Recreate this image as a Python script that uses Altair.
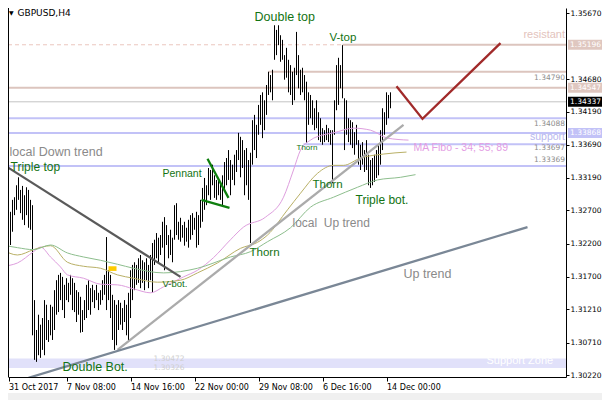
import altair as alt
import pandas as pd

FONT_UI = "DejaVu Sans"
FONT_TXT = "Liberation Sans"

# ---------------- data ----------------
# H4 bar highs / lows, bar 0 = 31 Oct 2017 00:00
high = [1.3218, 1.3214, 1.3226, 1.3233, 1.3268, 1.3286, 1.3290, 1.3308, 1.3320, 1.3301,
        1.3307, 1.3293, 1.3305, 1.3301, 1.3286, 1.3278, 1.3135, 1.3090, 1.3113, 1.3098,
        1.3108, 1.3135, 1.3128, 1.3105, 1.3128, 1.3125, 1.3150, 1.3165, 1.3173, 1.3176,
        1.3170, 1.3158, 1.3168, 1.3161, 1.3173, 1.3168, 1.3161, 1.3150, 1.3147, 1.3140,
        1.3120, 1.3135, 1.3158, 1.3165, 1.3153, 1.3158, 1.3150, 1.3158, 1.3146, 1.3150,
        1.3165, 1.3173, 1.3230, 1.3180, 1.3173, 1.3143, 1.3135, 1.3128, 1.3135, 1.3131,
        1.3123, 1.3135, 1.3128, 1.3146, 1.3180, 1.3188, 1.3192, 1.3188, 1.3198, 1.3203,
        1.3195, 1.3192, 1.3198, 1.3188, 1.3203, 1.3221, 1.3226, 1.3236, 1.3229, 1.3233,
        1.3253, 1.3260, 1.3248, 1.3233, 1.3241, 1.3229, 1.3278, 1.3281, 1.3253, 1.3259,
        1.3248, 1.3253, 1.3244, 1.3256, 1.3263, 1.3266, 1.3259, 1.3268, 1.3263, 1.3286,
        1.3304, 1.3319, 1.3308, 1.3334, 1.3331, 1.3339, 1.3323, 1.3316, 1.3319, 1.3311,
        1.3323, 1.3343, 1.3349, 1.3361, 1.3346, 1.3339, 1.3354, 1.3361, 1.3387, 1.3381,
        1.3376, 1.3361, 1.3364, 1.3346, 1.3357, 1.3406, 1.3414, 1.3399, 1.3429, 1.3444,
        1.3448, 1.3436, 1.3459, 1.3479, 1.3474, 1.3482, 1.3549, 1.3542, 1.3549, 1.3534,
        1.3527, 1.3504, 1.3515, 1.3497, 1.3489, 1.3479, 1.3485, 1.3539, 1.3504, 1.3482,
        1.3485, 1.3474, 1.3464, 1.3448, 1.3444, 1.3436, 1.3424, 1.3436, 1.3418, 1.3409,
        1.3394, 1.3391, 1.3399, 1.3394, 1.3391, 1.3391, 1.3436, 1.3489, 1.3500, 1.3489,
        1.3519, 1.3439, 1.3436, 1.3409, 1.3406, 1.3403, 1.3388, 1.3399, 1.3376, 1.3369,
        1.3373, 1.3361, 1.3376, 1.3354, 1.3346, 1.3349, 1.3354, 1.3361, 1.3369, 1.3391,
        1.3424, 1.3418, 1.3448, 1.3444, 1.3448]
low = [1.3192, 1.3188, 1.3198, 1.3192, 1.3218, 1.3238, 1.3263, 1.3271, 1.3286, 1.3266,
       1.3256, 1.3248, 1.3263, 1.3244, 1.3241, 1.3082, 1.3045, 1.3042, 1.3052, 1.3048,
       1.3060, 1.3052, 1.3075, 1.3072, 1.3082, 1.3075, 1.3090, 1.3113, 1.3117, 1.3135,
       1.3120, 1.3108, 1.3135, 1.3132, 1.3143, 1.3120, 1.3117, 1.3102, 1.3113, 1.3086,
       1.3087, 1.3105, 1.3108, 1.3120, 1.3113, 1.3132, 1.3123, 1.3135, 1.3120, 1.3128,
       1.3135, 1.3143, 1.3120, 1.3135, 1.3108, 1.3075, 1.3060, 1.3067, 1.3090, 1.3098,
       1.3090, 1.3102, 1.3082, 1.3072, 1.3108, 1.3135, 1.3150, 1.3158, 1.3161, 1.3153,
       1.3161, 1.3150, 1.3165, 1.3153, 1.3165, 1.3146, 1.3188, 1.3198, 1.3192, 1.3203,
       1.3214, 1.3180, 1.3218, 1.3198, 1.3203, 1.3192, 1.3226, 1.3233, 1.3226, 1.3223,
       1.3229, 1.3217, 1.3223, 1.3214, 1.3226, 1.3233, 1.3241, 1.3214, 1.3218, 1.3244,
       1.3253, 1.3271, 1.3278, 1.3293, 1.3286, 1.3308, 1.3289, 1.3286, 1.3293, 1.3286,
       1.3278, 1.3301, 1.3308, 1.3316, 1.3293, 1.3316, 1.3308, 1.3328, 1.3346, 1.3320,
       1.3334, 1.3293, 1.3308, 1.3286, 1.3221, 1.3339, 1.3361, 1.3349, 1.3384, 1.3399,
       1.3379, 1.3391, 1.3414, 1.3444, 1.3448, 1.3436, 1.3497, 1.3504, 1.3519, 1.3494,
       1.3497, 1.3467, 1.3470, 1.3448, 1.3444, 1.3429, 1.3436, 1.3474, 1.3454, 1.3444,
       1.3448, 1.3436, 1.3372, 1.3399, 1.3409, 1.3399, 1.3391, 1.3394, 1.3376, 1.3373,
       1.3369, 1.3373, 1.3376, 1.3373, 1.3369, 1.3311, 1.3384, 1.3421, 1.3429, 1.3454,
       1.3439, 1.3361, 1.3384, 1.3373, 1.3369, 1.3364, 1.3354, 1.3369, 1.3339, 1.3331,
       1.3339, 1.3328, 1.3331, 1.3308, 1.3304, 1.3308, 1.3313, 1.3319, 1.3323, 1.3339,
       1.3361, 1.3384, 1.3399, 1.3409, 1.3424]

# Moving averages (MA Fibo 34 / 55 / 89)
ma34_idx = [0, 7.5, 15.5, 19, 24, 29, 32.5, 40.5, 49, 57.5, 65.5, 74, 80.5, 90.5, 97.5,
            105.5, 114, 120.5, 131.5, 140.5, 145.5, 149, 154, 160.5, 165.5, 175.5, 184, 192.5, 203]
ma34_val = [1.3186, 1.3191, 1.3208, 1.3215, 1.3200, 1.3185, 1.3173, 1.3168, 1.3159, 1.3158,
            1.3152, 1.3146, 1.3155, 1.3170, 1.3180, 1.3199, 1.3226, 1.3245, 1.3260, 1.3290,
            1.3331, 1.3361, 1.3376, 1.3384, 1.3387, 1.3394, 1.3391, 1.3379, 1.3376]
ma55_idx = [0, 7.5, 15.5, 20, 24, 32.5, 40.5, 49, 57.5, 65.5, 77.5, 89, 97.5, 107.5, 119,
            127.5, 132.5, 142.5, 149, 157.5, 165.5, 170.5, 179, 190.5, 202]
ma55_val = [1.3211, 1.3203, 1.3211, 1.3215, 1.3217, 1.3192, 1.3186, 1.3183, 1.3173, 1.3168,
            1.3162, 1.3165, 1.3176, 1.3191, 1.3213, 1.3222, 1.3233, 1.3271, 1.3296, 1.3326,
            1.3338, 1.3338, 1.3349, 1.3355, 1.3358]
ma89_idx = [0, 7.5, 15.5, 24, 32.5, 40.5, 49, 57.5, 65.5, 80.5, 97.5, 114, 124, 132.5, 144,
            154, 165.5, 177.5, 187.5, 199, 206.5]
ma89_val = [1.3218, 1.3214, 1.3211, 1.3218, 1.3206, 1.3200, 1.3195, 1.3189, 1.3183, 1.3176,
            1.3183, 1.3200, 1.3208, 1.3223, 1.3244, 1.3275, 1.3290, 1.3305, 1.3316, 1.3320, 1.3324]

# x axis ticks (bar index) and labels
tick_pos = [0, 32, 64, 96, 128, 160, 192]
tick_text = ["31 Oct 2017", "7 Nov 08:00", "14 Nov 16:00", "22 Nov 00:00",
             "29 Nov 08:00", "6 Dec 16:00", "14 Dec 00:00"]
# y axis ticks
y_ticks = [1.35670, 1.34680, 1.34190, 1.33690, 1.33190, 1.32700,
           1.32200, 1.31700, 1.31210, 1.30710, 1.30220]

# horizontal levels: price, start bar, colour, width
lvl_price = [1.35196, 1.34790, 1.34547, 1.34337, 1.34088, 1.33868, 1.33697, 1.33369]
lvl_start = [170, 133, 0, 0, 0, 0, 150.5, 0]
lvl_color = ["#DCC5BE", "#DCC5BE", "#DCC5BE", "#C4C4C4", "#C2C2F7", "#C2C2F7", "#C2C2F7", "#C2C2F7"]
lvl_width = [2, 2, 2, 1, 2, 2, 2, 2]
resist_dashed = [1.35196, 0, 170]           # dashed part of the resistant level

# support zone
zone_low, zone_high = 1.30326, 1.30472

# trend lines: start bar, start price, end bar, end price, colour
tr_x0 = [0, 57.5, 13, 102.5, 99.5]
tr_p0 = [1.3340, 1.3060, 1.3018, 1.3348, 1.3286]
tr_x1 = [89, 200.5, 262.5, 113, 113.5]
tr_p1 = [1.3170, 1.3399, 1.3245, 1.3289, 1.3274]
tr_color = ["#5A5A5A", "#ABABAB", "#7A8796", "#0E7F0E", "#0E7F0E"]

# projected V path
v_idx = [197, 210, 249]
v_price = [1.3457, 1.3408, 1.3522]

# yellow marker
mark_x = [53, 57]
mark_p = [1.3179, 1.3186]

# price boxes on the right axis
box_price = [1.35196, 1.34547, 1.34337, 1.33868]
box_color = ["#DFC7C0", "#DFC7C0", "#000000", "#C2C2F7"]

# ---------------- scales / axes ----------------
X_MIN, X_MAX = 2.75, 281.75
Y_MIN, Y_MAX = 1.30192, 1.35750
W, H = 558, 369
RIGHT = 36
BOTTOM = 24

GREEN = "#137313"
GRAY = "#8A8A8A"
XR = X_MAX - 0.5
ann = [
    ("GBPUSD,H4", 7.5, 1.35680, "#000000", 9, "left", FONT_UI),
    ("\u25BC", 3.25, 1.35680, "#000000", 6, "left", FONT_UI),
    ("Double top", 126, 1.35614, GREEN, 12.5, "left", FONT_TXT),
    ("V-top", 163.5, 1.35305, GREEN, 11.5, "left", FONT_TXT),
    ("resistant", XR, 1.35343, "#E3C3BC", 11, "right", FONT_TXT),
    ("1.34790", XR, 1.34703, "#8C8C8C", 7.5, "right", FONT_UI),
    ("1.34088", XR, 1.34010, "#8C8C8C", 7.5, "right", FONT_UI),
    ("support", XR, 1.33807, "#B7B7EE", 10.5, "right", FONT_TXT),
    ("1.33697", XR, 1.33641, "#8C8C8C", 7.5, "right", FONT_UI),
    ("1.33369", XR, 1.33460, "#8C8C8C", 7.5, "right", FONT_UI),
    ("MA Fibo - 34; 55; 89", 205.5, 1.33634, "#E39DE3", 10.5, "left", FONT_TXT),
    ("local Down trend", 3.5, 1.33581, GRAY, 12.5, "left", FONT_TXT),
    ("Triple top", 4, 1.33355, GREEN, 12, "left", FONT_TXT),
    ("Pennant", 80, 1.33257, GREEN, 10.5, "left", FONT_TXT),
    ("Thorn", 147, 1.33634, GREEN, 8, "left", FONT_TXT),
    ("Thorn", 155, 1.33084, GREEN, 11.5, "left", FONT_TXT),
    ("Triple bot.", 176.5, 1.32858, GREEN, 12, "left", FONT_TXT),
    ("local\u00a0 Up trend", 145, 1.32512, GRAY, 12, "left", FONT_TXT),
    ("Thorn", 123.5, 1.32060, GREEN, 11.5, "left", FONT_TXT),
    ("Up trend", 200.5, 1.31744, GRAY, 12.5, "left", FONT_TXT),
    ("V-bot.", 80, 1.31593, GREEN, 9.5, "left", FONT_TXT),
    ("Double Bot.", 30, 1.30343, GREEN, 12.5, "left", FONT_TXT),
    ("1.30472", 75.5, 1.30463, "#CFCFCF", 7.5, "left", FONT_UI),
    ("1.30326", 75.5, 1.30328, "#CFCFCF", 7.5, "left", FONT_UI),
    ("Support Zone", 242, 1.30433, "#FFFFFF", 11, "left", FONT_TXT),
]

xs = alt.Scale(domain=[X_MIN, X_MAX], nice=False, zero=False)
ys = alt.Scale(domain=[Y_MIN, Y_MAX], nice=False, zero=False)

tick_axis_pos = [max(p, 3) for p in tick_pos]
label_expr = " : ".join(f"datum.value == {p} ? '{t}'" for p, t in zip(tick_axis_pos, tick_text)) + " : ''"

xaxis = alt.Axis(values=tick_axis_pos, labelExpr=label_expr, title=None, grid=False,
                 orient="bottom", tickSize=4, tickColor="black", domainColor="black",
                 labelColor="black", labelFont=FONT_UI, labelFontSize=8, labelAlign="left",
                 labelPadding=2, labelFlush=False, labelOverlap=False, zindex=1)
yaxis = alt.Axis(values=y_ticks, format=".5f", title=None, grid=False, orient="right",
                 tickSize=3, tickColor="black", domainColor="black", labelColor="black",
                 labelFont=FONT_UI, labelFontSize=7.5, labelPadding=1, labelBaseline="middle",
                 labelFlush=False, labelOverlap=False, zindex=0)


def X(f):
    return alt.X(f, type="quantitative", scale=xs, axis=xaxis)


def Y(f):
    return alt.Y(f, type="quantitative", scale=ys, axis=yaxis)


# ---------------- layers ----------------
strip = alt.Chart(pd.DataFrame({"k": [0]})).mark_rect(color="#F0F0F0").encode(
    x=alt.value(0), x2=alt.value(W + RIGHT), y=alt.value(H + 16), y2=alt.value(H + BOTTOM))

bars_df = pd.DataFrame({"idx": list(range(len(high))), "high": high, "low": low})
bars = alt.Chart(bars_df).mark_rule(color="black", strokeWidth=1, clip=True).encode(
    x=X("idx"), y=Y("high"), y2="low")

zone_df = pd.DataFrame({"x0": [X_MIN], "x1": [X_MAX], "lo": [zone_low], "hi": [zone_high]})
zone = alt.Chart(zone_df).mark_rect(color="#E1E1FA").encode(
    x=X("x0"), x2="x1", y=Y("lo"), y2="hi")

lvl_df = pd.DataFrame({"p": lvl_price, "x0": [max(s, X_MIN) for s in lvl_start],
                       "x1": [X_MAX] * len(lvl_price), "c": lvl_color, "w": lvl_width})
levels = alt.Chart(lvl_df).mark_rule(strokeCap="butt").encode(
    x=X("x0"), x2="x1", y=Y("p"),
    color=alt.Color("c:N", scale=None), size=alt.Size("w:Q", scale=None))

dash_df = pd.DataFrame({"p": [resist_dashed[0]], "x0": [X_MIN], "x1": [resist_dashed[2]]})
dashed = alt.Chart(dash_df).mark_rule(color="#EBC6BE", strokeWidth=1, strokeDash=[4, 3]).encode(
    x=X("x0"), x2="x1", y=Y("p"))

ma_df = pd.concat([
    pd.DataFrame({"idx": ma34_idx, "v": ma34_val, "s": "MA34", "c": "#DE9EDE"}),
    pd.DataFrame({"idx": ma55_idx, "v": ma55_val, "s": "MA55", "c": "#B9B066"}),
    pd.DataFrame({"idx": ma89_idx, "v": ma89_val, "s": "MA89", "c": "#8DBE8D"}),
])
mas = alt.Chart(ma_df).mark_line(strokeWidth=1, interpolate="monotone", clip=True).encode(
    x=X("idx"), y=Y("v"), detail="s:N", color=alt.Color("c:N", scale=None))

tr_df = pd.DataFrame({"x0": tr_x0, "p0": tr_p0, "x1": tr_x1, "p1": tr_p1, "c": tr_color})
trends = alt.Chart(tr_df).mark_rule(strokeWidth=2.3, clip=True).encode(
    x=X("x0"), y=Y("p0"), x2="x1", y2="p1", color=alt.Color("c:N", scale=None))

v_df = pd.DataFrame({"idx": v_idx, "p": v_price})
vline = alt.Chart(v_df).mark_line(color="#A12A2A", strokeWidth=2.3).encode(
    x=X("idx"), y=Y("p"))

mk_df = pd.DataFrame({"x0": [mark_x[0]], "x1": [mark_x[1]], "p0": [mark_p[0]], "p1": [mark_p[1]]})
marker = alt.Chart(mk_df).mark_rect(color="#FFCC00").encode(
    x=X("x0"), x2="x1", y=Y("p0"), y2="p1")

ann_df = pd.DataFrame(ann, columns=["t", "idx", "p", "c", "s", "a", "f"])
texts = []
for (a, f), g in ann_df.groupby(["a", "f"]):
    texts.append(alt.Chart(g).mark_text(align=a, baseline="middle", font=f).encode(
        x=X("idx"), y=Y("p"), text="t:N",
        color=alt.Color("c:N", scale=None), size=alt.Size("s:Q", scale=None)))

box_df = pd.DataFrame({"p": box_price, "c": box_color,
                       "lab": [f"{v:.5f}" for v in box_price]})
boxes = alt.Chart(box_df).mark_rect(yOffset=-5, y2Offset=5).encode(
    x=alt.value(W + 2), x2=alt.value(W + RIGHT), y=Y("p"), y2="p",
    color=alt.Color("c:N", scale=None))
box_text = alt.Chart(box_df).mark_text(align="left", baseline="middle", font=FONT_UI,
                                       fontSize=7.5, color="white").encode(
    x=alt.value(W + 4), y=Y("p"), text="lab:N")

frame = alt.Chart(pd.DataFrame({"k": [0]})).mark_rule(color="black", strokeWidth=1).encode(
    x=alt.value(0.5), y=alt.value(0), y2=alt.value(H))

chart = alt.layer(
    strip, zone, dashed, levels, bars, mas, trends, vline, marker, *texts, boxes, box_text, frame
).properties(
    width=W, height=H,
    padding={"left": 0, "top": 0, "right": RIGHT, "bottom": BOTTOM},
    autosize=alt.AutoSizeParams(type="none"),
    background="white",
).configure_view(stroke=None)

chart.save("out.html", embed_options={"renderer": "svg", "actions": False})
